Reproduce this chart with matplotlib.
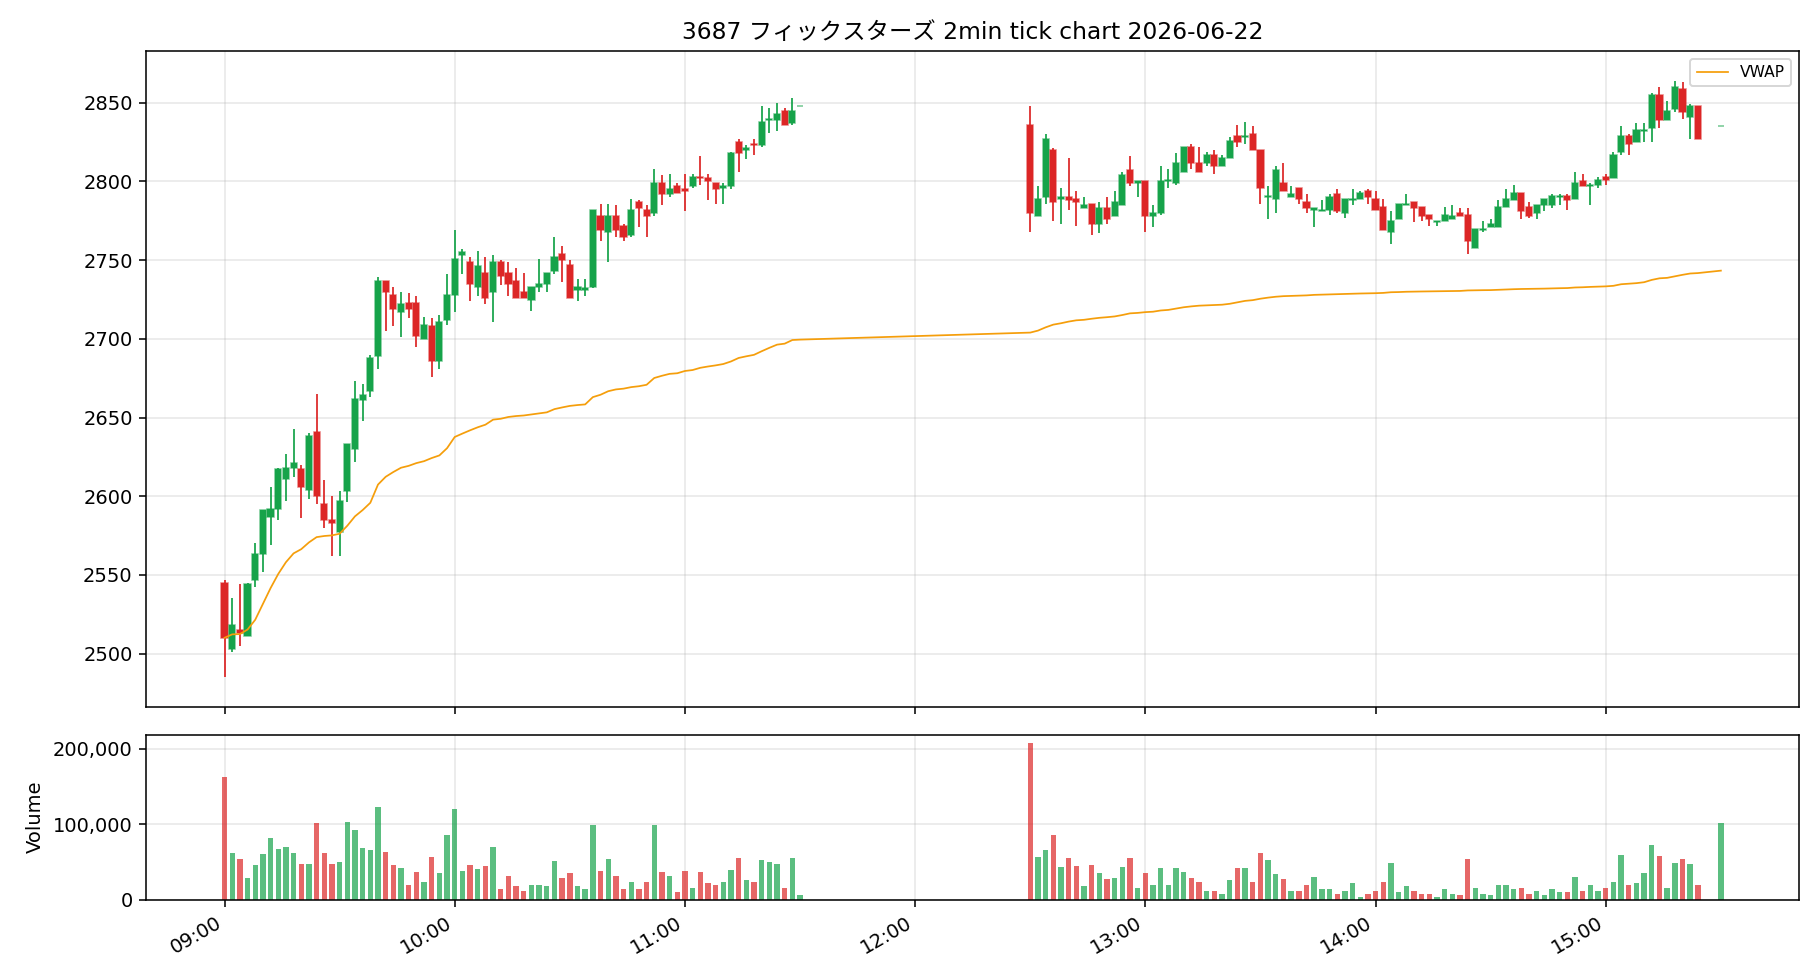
import matplotlib
matplotlib.use("Agg")
import matplotlib.pyplot as plt
import matplotlib.dates as mdates
from matplotlib.ticker import FuncFormatter
import numpy as np
import pandas as pd

plt.rcParams['font.family'] = ['DejaVu Sans', 'Noto Sans CJK JP']

TITLE = "3687 フィックスターズ 2min tick chart 2026-06-22"

# ---- session timestamps (2-minute bars) ----
morning_times = pd.date_range("2026-06-22 09:00", "2026-06-22 11:30", freq="2min")
afternoon_times = pd.date_range("2026-06-22 12:30", "2026-06-22 15:24", freq="2min")
closing_times = pd.to_datetime(["2026-06-22 15:30"])

# ---- morning OHLC ----
m_open = [2545, 2503, 2515, 2511, 2547, 2563, 2587, 2592, 2611, 2618,
          2617, 2604, 2641, 2595, 2585, 2577, 2603, 2630, 2661, 2667,
          2689, 2737, 2728, 2717, 2723, 2723, 2700, 2708, 2686, 2712,
          2728, 2753, 2749, 2733, 2742, 2730, 2749, 2742, 2737, 2730,
          2725, 2733, 2735, 2743, 2754, 2747, 2731, 2731, 2733, 2778,
          2768, 2778, 2772, 2766, 2787, 2782, 2780, 2799, 2792, 2797,
          2795, 2797, 2803, 2802, 2799, 2796, 2797, 2825, 2820, 2824,
          2823, 2839, 2839, 2845, 2837, 2848]
m_high = [2547, 2535, 2544, 2545, 2570, 2591, 2606, 2618, 2627, 2643,
          2620, 2640, 2665, 2610, 2600, 2603, 2633, 2673, 2671, 2690,
          2739, 2737, 2733, 2730, 2729, 2727, 2714, 2713, 2715, 2741,
          2769, 2757, 2752, 2756, 2752, 2753, 2750, 2749, 2745, 2742,
          2733, 2751, 2742, 2765, 2759, 2750, 2738, 2738, 2782, 2786,
          2786, 2785, 2773, 2789, 2788, 2785, 2808, 2804, 2805, 2799,
          2805, 2805, 2816, 2805, 2799, 2799, 2819, 2827, 2823, 2827,
          2848, 2847, 2850, 2847, 2853, 2848]
m_low = [2485, 2501, 2505, 2511, 2542, 2552, 2569, 2585, 2597, 2612,
         2586, 2598, 2595, 2580, 2562, 2562, 2596, 2622, 2648, 2663,
         2681, 2705, 2708, 2701, 2713, 2695, 2700, 2676, 2681, 2709,
         2717, 2741, 2724, 2727, 2722, 2711, 2734, 2727, 2726, 2726,
         2718, 2730, 2730, 2741, 2736, 2726, 2724, 2727, 2732, 2762,
         2749, 2765, 2762, 2765, 2771, 2765, 2778, 2785, 2790, 2793,
         2781, 2796, 2798, 2788, 2786, 2786, 2795, 2806, 2814, 2817,
         2822, 2831, 2832, 2836, 2836, 2848]
m_close = [2510, 2518, 2513, 2544, 2563, 2591, 2592, 2617, 2618, 2621,
           2606, 2638, 2600, 2585, 2583, 2597, 2633, 2662, 2664, 2688,
           2737, 2730, 2719, 2722, 2719, 2702, 2709, 2686, 2711, 2728,
           2751, 2755, 2735, 2746, 2726, 2749, 2740, 2735, 2726, 2726,
           2733, 2735, 2742, 2752, 2750, 2726, 2733, 2732, 2782, 2769,
           2778, 2769, 2765, 2782, 2783, 2778, 2799, 2792, 2795, 2793,
           2794, 2803, 2802, 2800, 2795, 2797, 2818, 2818, 2821, 2823,
           2838, 2840, 2843, 2836, 2845, 2848]
m_volume = [163, 62, 54, 28, 46, 60, 82, 67, 70, 62,
            47, 47, 102, 62, 47, 50, 103, 92, 68, 66,
            123, 63, 46, 42, 20, 36, 24, 56, 35, 86,
            120, 38, 46, 40, 44, 70, 14, 31, 18, 11,
            19, 19, 18, 51, 28, 35, 18, 14, 99, 38,
            54, 31, 14, 24, 14, 24, 99, 36, 31, 10,
            38, 15, 36, 22, 20, 24, 39, 55, 26, 23,
            52, 50, 47, 16, 55, 6]

# ---- afternoon OHLC (12:30 - 15:24, then 15:30 close) ----
a_open = [2836, 2778, 2790, 2820, 2789, 2790, 2789, 2783, 2786, 2773,
          2783, 2778, 2785, 2807, 2799, 2800, 2778, 2780, 2800, 2799,
          2806, 2822, 2812, 2812, 2817, 2810, 2815, 2829, 2828, 2830,
          2820, 2790, 2789, 2799, 2790, 2796, 2787, 2782, 2781, 2782,
          2792, 2780, 2788, 2789, 2794, 2789, 2784, 2768, 2776, 2785,
          2787, 2784, 2779, 2774, 2775, 2776, 2780, 2779, 2758, 2769,
          2771, 2771, 2784, 2788, 2793, 2784, 2780, 2785, 2785, 2790,
          2791, 2789, 2800, 2797, 2798, 2803, 2802, 2819, 2829, 2825,
          2832, 2834, 2855, 2839, 2846, 2859, 2841, 2848, 2835]
a_high = [2848, 2797, 2830, 2821, 2796, 2815, 2794, 2790, 2786, 2787,
          2790, 2794, 2806, 2816, 2800, 2800, 2785, 2810, 2808, 2818,
          2822, 2824, 2822, 2819, 2820, 2817, 2828, 2836, 2838, 2835,
          2820, 2797, 2810, 2812, 2797, 2796, 2792, 2783, 2788, 2792,
          2795, 2789, 2795, 2794, 2795, 2794, 2789, 2781, 2786, 2792,
          2787, 2784, 2779, 2775, 2784, 2785, 2783, 2783, 2770, 2775,
          2776, 2788, 2795, 2798, 2793, 2787, 2785, 2789, 2792, 2792,
          2792, 2806, 2805, 2799, 2803, 2805, 2819, 2835, 2830, 2837,
          2837, 2856, 2860, 2851, 2864, 2863, 2849, 2848, 2835]
a_low = [2768, 2778, 2786, 2775, 2773, 2782, 2772, 2783, 2766, 2767,
         2773, 2778, 2785, 2797, 2790, 2768, 2771, 2779, 2796, 2798,
         2806, 2808, 2806, 2810, 2805, 2810, 2815, 2822, 2824, 2820,
         2786, 2776, 2780, 2794, 2790, 2786, 2780, 2771, 2781, 2779,
         2780, 2777, 2785, 2789, 2786, 2782, 2769, 2760, 2776, 2785,
         2774, 2775, 2772, 2772, 2775, 2776, 2778, 2754, 2758, 2768,
         2771, 2771, 2784, 2788, 2776, 2777, 2776, 2781, 2783, 2785,
         2782, 2789, 2797, 2785, 2796, 2798, 2802, 2817, 2817, 2825,
         2825, 2825, 2834, 2839, 2844, 2840, 2827, 2827, 2835]
a_close = [2780, 2789, 2827, 2787, 2790, 2788, 2787, 2785, 2773, 2783,
           2776, 2787, 2804, 2799, 2800, 2778, 2780, 2800, 2801, 2812,
           2822, 2812, 2806, 2817, 2810, 2815, 2826, 2825, 2829, 2820,
           2796, 2791, 2807, 2794, 2792, 2789, 2783, 2783, 2782, 2790,
           2781, 2789, 2789, 2793, 2790, 2782, 2769, 2775, 2786, 2786,
           2783, 2778, 2776, 2775, 2779, 2778, 2778, 2762, 2770, 2770,
           2773, 2784, 2789, 2793, 2781, 2778, 2785, 2789, 2791, 2791,
           2788, 2799, 2797, 2798, 2801, 2801, 2817, 2829, 2824, 2833,
           2833, 2855, 2839, 2845, 2860, 2844, 2848, 2827, 2835]
a_volume = [208, 56, 66, 86, 43, 55, 44, 18, 46, 35,
            27, 28, 43, 55, 15, 35, 19, 42, 20, 42,
            36, 28, 24, 11, 12, 8, 26, 42, 42, 23,
            62, 52, 34, 27, 11, 11, 19, 30, 14, 14,
            8, 12, 22, 4, 7, 11, 24, 48, 10, 18,
            11, 7, 7, 4, 14, 7, 6, 54, 15, 8,
            6, 20, 20, 14, 15, 7, 11, 6, 14, 10,
            10, 30, 12, 20, 11, 16, 24, 59, 20, 22,
            35, 72, 58, 16, 48, 54, 47, 19, 102]

# ---- assemble ----
times = morning_times.append(afternoon_times).append(closing_times)
opens = np.array(m_open + a_open, dtype=float)
highs = np.array(m_high + a_high, dtype=float)
lows = np.array(m_low + a_low, dtype=float)
closes = np.array(m_close + a_close, dtype=float)
volumes = np.array(m_volume + a_volume, dtype=float) * 1000

vwap = np.cumsum(closes * volumes) / np.cumsum(volumes)

GREEN = "#16a34a"
RED = "#dc2626"
ORANGE = "#f59e0b"

x = mdates.date2num(times.to_pydatetime())
bar_w = 2.0 / 1440.0
up = closes >= opens
colors = np.where(up, GREEN, RED)

fig = plt.figure(figsize=(13, 7), dpi=140)
ax = fig.add_axes([0.0804, 0.2786, 0.9081, 0.6694])
axv = fig.add_axes([0.0804, 0.082, 0.9081, 0.1683], sharex=ax)

# wicks
ax.vlines(x, lows, highs, colors=colors, linewidth=0.9, zorder=2)
# bodies
body_bottom = np.minimum(opens, closes)
body_height = np.abs(closes - opens)
edge_cols = [matplotlib.colors.to_rgba(c, 0.6) for c in colors]
ax.bar(x, body_height, bottom=body_bottom, width=bar_w * 0.8,
       color=colors, edgecolor=edge_cols, linewidth=0.8, zorder=3)

ax.plot(x, vwap, color=ORANGE, linewidth=0.9, label="VWAP", zorder=4)

ax.grid(True, alpha=0.3)
ax.set_axisbelow(True)
ax.set_title(TITLE, fontsize=12)
ax.legend(loc="upper right", fontsize=8)
ax.tick_params(labelbottom=False)

axv.bar(x, volumes, width=bar_w * 0.7, color=colors, alpha=0.7)
axv.grid(True, alpha=0.3)
axv.set_axisbelow(True)
axv.set_ylabel("Volume")
axv.yaxis.set_major_formatter(FuncFormatter(lambda v, p: f"{int(v):,}"))
axv.xaxis.set_major_locator(mdates.HourLocator())
axv.xaxis.set_major_formatter(mdates.DateFormatter("%H:%M"))
plt.setp(axv.get_xticklabels(), rotation=30, ha="right")

fig.savefig("out.png", dpi=140)
